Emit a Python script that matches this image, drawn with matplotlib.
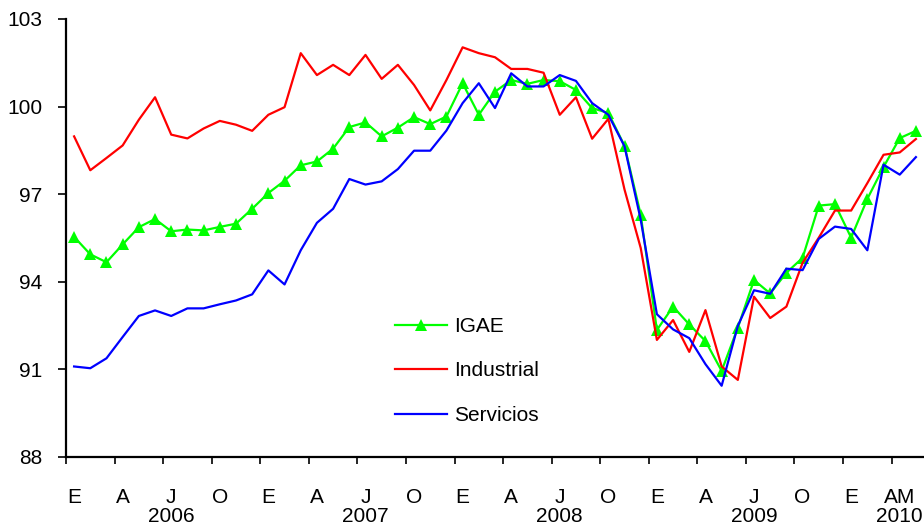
import matplotlib
matplotlib.use("Agg")
import matplotlib.pyplot as plt
import matplotlib.transforms as mtransforms
import numpy as np

plt.rcParams['font.family'] = ['Liberation Sans', 'DejaVu Sans']

# Monthly data Jan 2006 - May 2010
igae = [95.54, 94.94, 94.67, 95.28, 95.87, 96.15, 95.73, 95.79, 95.76, 95.88, 95.99, 96.50,
        97.04, 97.46, 97.99, 98.12, 98.56, 99.30, 99.46, 98.98, 99.28, 99.64, 99.40, 99.66,
        100.80, 99.72, 100.51, 100.91, 100.78, 100.91, 100.87, 100.57, 99.95, 99.78, 98.66, 96.30,
        92.35, 93.15, 92.54, 91.97, 90.95, 92.43, 94.06, 93.60, 94.31, 94.82, 96.61, 96.66,
        95.51, 96.84, 97.93, 98.92, 99.17]
industrial = [98.98, 97.82, 98.24, 98.67, 99.55, 100.32, 99.04, 98.91, 99.25, 99.51, 99.38, 99.17,
              99.72, 99.98, 101.83, 101.08, 101.43, 101.08, 101.77, 100.95, 101.43, 100.74, 99.87, 100.91,
              102.03, 101.83, 101.69, 101.29, 101.29, 101.16, 99.72, 100.32, 98.90, 99.58, 97.16, 95.16,
              92.01, 92.69, 91.60, 93.03, 91.10, 90.64, 93.49, 92.76, 93.15, 94.65, 95.51, 96.44,
              96.44, 97.38, 98.35, 98.43, 98.89]
servicios = [91.10, 91.04, 91.38, 92.11, 92.83, 93.02, 92.83, 93.09, 93.09, 93.23, 93.36, 93.57,
             94.39, 93.91, 95.08, 96.02, 96.50, 97.52, 97.33, 97.44, 97.86, 98.49, 98.49, 99.18,
             100.12, 100.80, 99.95, 101.14, 100.69, 100.69, 101.08, 100.88, 100.12, 99.72, 98.64, 96.13,
             92.89, 92.37, 92.07, 91.18, 90.44, 92.49, 93.71, 93.59, 94.45, 94.40, 95.47, 95.89,
             95.81, 95.08, 98.01, 97.67, 98.27]

month_labels = ['E', 'A', 'J', 'O'] * 4 + ['E', 'AM']
month_label_pos = list(range(0, 48, 3)) + [48, 51]
years = ['2006', '2007', '2008', '2009', '2010']
year_pos = [6, 18, 30, 42, 51]
yticks = [88, 91, 94, 97, 100, 103]

FS = 15

fig = plt.figure(figsize=(9.24, 5.27), dpi=100)
ax = fig.add_axes([66/924, 1 - 457/527, 1 - 66/924, (457 - 19)/527])

x = np.arange(len(igae))
ax.plot(x, igae, color='#00FF00', lw=1.6, marker='^', markersize=8,
        markeredgewidth=0, label='IGAE', clip_on=False)
ax.plot(x, industrial, color='#FF0000', lw=1.6, label='Industrial', clip_on=False)
ax.plot(x, servicios, color='#0000FF', lw=1.6, label='Servicios', clip_on=False)

ax.set_xlim(-0.5, len(igae) - 0.5)
ax.set_ylim(88, 103)
ax.set_yticks(yticks)
ax.set_yticklabels([str(v) for v in yticks], fontsize=FS)

for s in ['top', 'right']:
    ax.spines[s].set_visible(False)
for s in ['left', 'bottom']:
    ax.spines[s].set_linewidth(1.6)

ax.tick_params(axis='y', direction='out', length=6, width=1.2, pad=11)

ax.set_xticks(month_label_pos)
ax.set_xticklabels(month_labels, fontsize=FS)
ax.set_xticks(np.arange(-0.5, len(igae) - 0.5, 3), minor=True)
ax.tick_params(axis='x', which='major', length=0, pad=22)
ax.tick_params(axis='x', which='minor', direction='out', length=5, width=1.2)

trans = mtransforms.blended_transform_factory(ax.transData, ax.transAxes)
for yr, p in zip(years, year_pos):
    ax.text(p, -60/438, yr, transform=trans, ha='center', va='center', fontsize=FS)

leg = ax.legend(loc='upper left', bbox_to_anchor=(395/924, 1 - 317/527),
                bbox_transform=fig.transFigure, frameon=False, fontsize=FS,
                handlelength=2.5, handletextpad=0.35, labelspacing=1.22,
                borderpad=0, borderaxespad=0)

fig.savefig('out.png', dpi=100)
